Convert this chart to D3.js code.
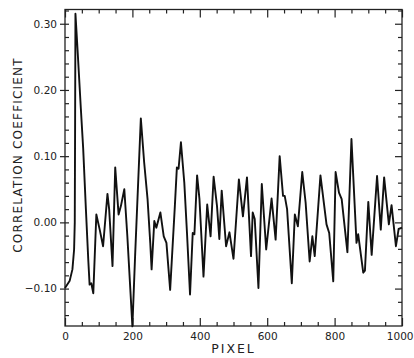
<!DOCTYPE html>
<html>
<head>
<meta charset="utf-8">
<script src="https://cdn.jsdelivr.net/npm/d3@7"></script>
<style>
  body { margin: 0; background: #fff; }
  svg text { font-family: "DejaVu Sans", sans-serif; fill: #222; }
</style>
</head>
<body>
<div id="chart"></div>
<script>
// values
const pixel = [0, 14, 22, 27, 29, 30, 31, 37, 47, 54, 62, 69, 73, 78, 84, 93, 103, 113, 126, 131,
  141, 149, 159, 166, 176, 185, 200, 208, 225, 235, 245, 253, 257, 265, 271, 283, 293, 301, 312, 326,
  332, 337, 344, 354, 362, 371, 379, 384, 392, 399, 411, 422, 432, 441, 451, 458, 465, 478, 488, 500,
  516, 528, 540, 552, 557, 563, 574, 584, 597, 613, 625, 637, 647, 652, 659, 673, 682, 691, 704, 714,
  726, 734, 741, 758, 776, 784, 796, 803, 813, 821, 838, 850, 865, 870, 885, 890, 900, 910, 926, 937,
  947, 961, 969, 982, 990, 1000];
const corr = [-0.099, -0.088, -0.071, -0.041, 0.0, 0.15, 0.315, 0.263, 0.172, 0.111, 0.02, -0.056, -0.094, -0.092, -0.107, 0.012, -0.011, -0.036, 0.043, 0.02,
  -0.066, 0.083, 0.012, 0.025, 0.05, -0.021, -0.157, -0.051, 0.157, 0.09, 0.035, -0.031, -0.071, 0.002, -0.008, 0.015, -0.021, -0.031, -0.102, 0.025,
  0.083, 0.081, 0.121, 0.06, -0.016, -0.109, -0.016, -0.018, 0.071, 0.035, -0.082, 0.027, -0.021, 0.069, 0.025, -0.025, 0.048, -0.036, -0.015, -0.055,
  0.065, 0.009, 0.068, -0.051, 0.015, 0.005, -0.099, 0.058, -0.041, 0.036, -0.026, 0.1, 0.04, 0.04, 0.02, -0.092, 0.012, -0.006, 0.076, 0.03,
  -0.059, -0.021, -0.051, 0.071, -0.003, -0.016, -0.089, 0.076, 0.045, 0.035, -0.045, 0.126, -0.031, -0.018, -0.076, -0.073, 0.031, -0.049, 0.07, -0.011,
  0.068, -0.003, 0.026, -0.036, -0.01, -0.008];

const xMajor = [0, 200, 400, 600, 800, 1000];
const xMinor = [50, 100, 150, 250, 300, 350, 450, 500, 550, 650, 700, 750, 850, 900, 950];
const yMajor = [-0.10, 0.00, 0.10, 0.20, 0.30];
const yMinor = [-0.14, -0.12, -0.08, -0.06, -0.04, -0.02, 0.02, 0.04, 0.06, 0.08, 0.12, 0.14, 0.16, 0.18, 0.22, 0.24, 0.26, 0.28, 0.32];

const width = 414;
const height = 358;
const marginLeft = 65;
const marginRight = 12;
const marginTop = 9.5;
const marginBottom = 32;

const data = pixel.map((p, i) => ({p, c: corr[i]}));

const x = d3.scaleLinear()
    .domain([0, 1000])
    .range([marginLeft, width - marginRight]);
const y = d3.scaleLinear()
    .domain([-0.1565, 0.3215])
    .range([height - marginBottom, marginTop]);

const svg = d3.select("#chart").append("svg")
    .attr("width", width)
    .attr("height", height)
    .attr("viewBox", [0, 0, width, height]);

const fmt = d => d3.format(".2f")(d).replace("-", "\u2212");

const styleAxis = g => {
    g.select(".domain").remove();
    g.selectAll(".tick line").attr("stroke", "#222").attr("stroke-width", 1.2);
    g.selectAll("text").attr("font-size", 10.5).attr("fill", "#222");
};

// left: labelled major ticks reach outward, all ticks inward
svg.append("g")
    .attr("transform", `translate(${marginLeft},0)`)
    .call(d3.axisLeft(y).tickValues(yMajor).tickSize(5).tickPadding(3).tickFormat(fmt))
    .call(styleAxis);
svg.append("g")
    .attr("transform", `translate(${marginLeft},0)`)
    .call(d3.axisLeft(y).tickValues(yMajor.concat(yMinor)).tickSize(-4).tickFormat(""))
    .call(styleAxis);
// right
svg.append("g")
    .attr("transform", `translate(${width - marginRight},0)`)
    .call(d3.axisRight(y).tickValues(yMinor).tickSize(-4).tickFormat(""))
    .call(styleAxis);
svg.append("g")
    .attr("transform", `translate(${width - marginRight},0)`)
    .call(d3.axisRight(y).tickValues(yMajor).tickSize(-7).tickFormat(""))
    .call(styleAxis);
// bottom
svg.append("g")
    .attr("transform", `translate(0,${height - marginBottom})`)
    .call(d3.axisBottom(x).tickValues(xMajor).tickSize(-8).tickPadding(7).tickFormat(d3.format("d")))
    .call(styleAxis)
    .call(g => g.selectAll(".tick:last-of-type text")
        .attr("text-anchor", "end")
        .attr("x", marginRight - 1));
svg.append("g")
    .attr("transform", `translate(0,${height - marginBottom})`)
    .call(d3.axisBottom(x).tickValues(xMinor).tickSize(-4).tickFormat(""))
    .call(styleAxis);
// top
svg.append("g")
    .attr("transform", `translate(0,${marginTop})`)
    .call(d3.axisTop(x).tickValues(xMajor).tickSize(-8).tickFormat(""))
    .call(styleAxis);
svg.append("g")
    .attr("transform", `translate(0,${marginTop})`)
    .call(d3.axisTop(x).tickValues(xMinor).tickSize(-4).tickFormat(""))
    .call(styleAxis);

svg.append("rect")
    .attr("x", marginLeft)
    .attr("y", marginTop)
    .attr("width", width - marginLeft - marginRight)
    .attr("height", height - marginTop - marginBottom)
    .attr("fill", "none")
    .attr("stroke", "#222")
    .attr("stroke-width", 1.3);

const line = d3.line()
    .x(d => x(d.p))
    .y(d => y(d.c));

svg.append("path")
    .datum(data)
    .attr("fill", "none")
    .attr("stroke", "#111")
    .attr("stroke-width", 1.9)
    .attr("stroke-linejoin", "round")
    .attr("d", line);

svg.append("text")
    .attr("x", (marginLeft + width - marginRight) / 2)
    .attr("y", 353)
    .attr("text-anchor", "middle")
    .attr("font-size", 12.5)
    .attr("letter-spacing", 2)
    .text("PIXEL");

svg.append("text")
    .attr("transform", "translate(22,155) rotate(-90)")
    .attr("text-anchor", "middle")
    .attr("font-size", 12)
    .attr("letter-spacing", 1.2)
    .text("CORRELATION COEFFICIENT");
</script>
</body>
</html>
